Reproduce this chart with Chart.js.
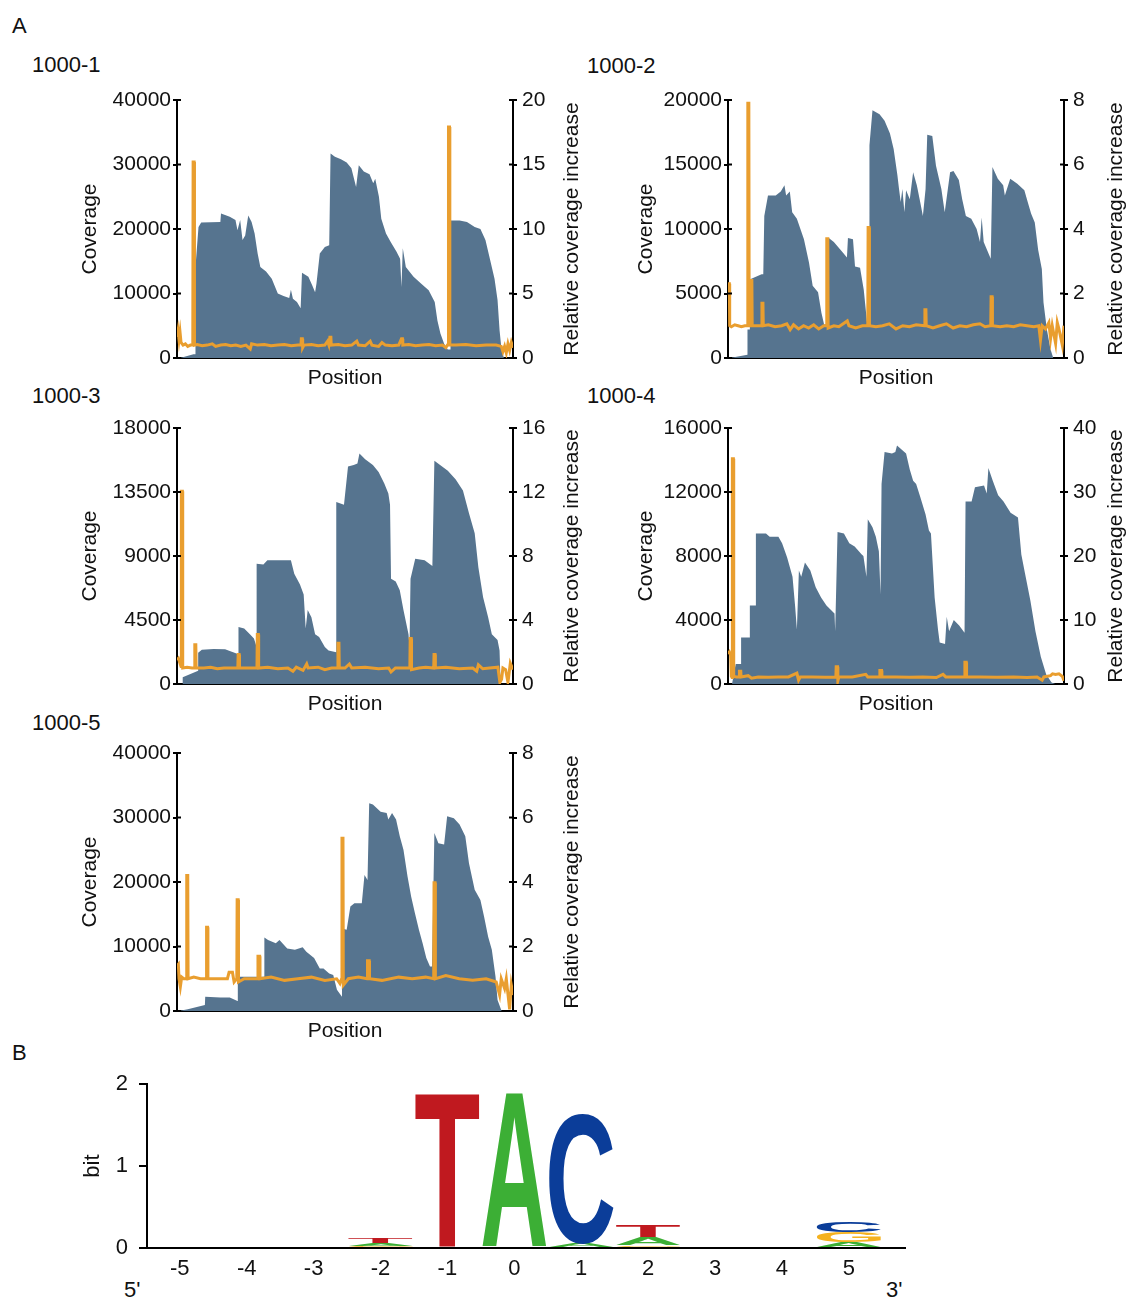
<!DOCTYPE html>
<html>
<head>
<meta charset="utf-8">
<script src="https://cdn.jsdelivr.net/npm/chart.js@4"></script>
<style>
body { margin: 0; background: #fff; }
#page { position: relative; width: 1133px; height: 1300px; font-family: "Liberation Sans", Arial, sans-serif; color: #111; }
.lbl { position: absolute; font-size: 22px; line-height: 22px; white-space: nowrap; }
canvas { position: absolute; }
</style>
</head>
<body>
<div id="page">
  <div class="lbl" style="left:12px;top:15px">A</div>
  <div class="lbl" style="left:32px;top:54px">1000-1</div>
  <div class="lbl" style="left:587px;top:55px">1000-2</div>
  <div class="lbl" style="left:32px;top:385px">1000-3</div>
  <div class="lbl" style="left:587px;top:385px">1000-4</div>
  <div class="lbl" style="left:32px;top:712px">1000-5</div>
  <div class="lbl" style="left:12px;top:1042px">B</div>
  <div class="lbl" style="left:124px;top:1279px">5'</div>
  <div class="lbl" style="left:886px;top:1279px">3'</div>

  <canvas id="c1" width="515" height="315" style="left:74px;top:80px"></canvas>
  <canvas id="c2" width="503" height="315" style="left:630px;top:80px"></canvas>
  <canvas id="c3" width="515" height="313" style="left:74px;top:408px"></canvas>
  <canvas id="c4" width="503" height="313" style="left:630px;top:408px"></canvas>
  <canvas id="c5" width="515" height="315" style="left:74px;top:733px"></canvas>
  <canvas id="logo" width="839" height="240" style="left:76px;top:1060px"></canvas>
</div>
<script>
// coverage along the amplicon: [position, reads]
const cov1 = [[0,0],[9,0],[49,570],[55,570],[55,14100],[64,20300],[72,21000],[129,21100],[131,22400],[157,21900],[174,21400],[180,19800],[188,21400],[195,18300],[203,19000],[212,22100],[222,21100],[231,19300],[240,16200],[248,14100],[265,13400],[282,12300],[300,10000],[317,9600],[334,9300],[339,10600],[345,9200],[357,8700],[368,7700],[372,13200],[391,12600],[402,11300],[411,10200],[415,11500],[425,16200],[440,17200],[453,17500],[457,31700],[470,31200],[488,30800],[505,30300],[519,29400],[533,26500],[541,29900],[556,28900],[573,28500],[584,27100],[590,27800],[601,25000],[608,21600],[622,19300],[636,18000],[653,16500],[664,15400],[668,11000],[672,17000],[681,14100],[704,12600],[727,11500],[749,10500],[767,8700],[775,5800],[784,3800],[795,2200],[806,1300],[814,1300],[814,21300],[841,21300],[863,21100],[886,20300],[903,20000],[918,18300],[932,15200],[945,12300],[954,9000],[960,4300],[966,1200],[973,0],[1000,0]];
const cov2 = [[0,0],[5,0],[58,260],[58,2200],[65,2200],[66,6100],[100,6500],[105,6500],[108,11000],[119,12600],[142,12600],[157,12900],[168,13400],[173,12600],[184,12900],[191,11300],[205,10800],[226,9200],[241,7400],[252,5600],[268,5100],[278,3500],[286,2600],[299,2600],[300,9300],[315,9000],[341,8200],[354,7800],[357,9300],[372,9200],[378,7100],[393,7000],[404,5300],[414,2700],[420,2600],[421,16500],[430,19200],[451,18900],[466,18400],[482,17400],[493,16200],[504,14200],[509,13100],[514,12100],[519,13100],[525,11300],[530,13000],[541,12300],[551,14400],[562,13400],[572,12100],[580,11000],[588,13100],[593,17300],[608,17200],[619,14900],[635,13100],[645,11300],[661,14400],[671,14500],[687,13800],[697,12300],[708,11000],[724,10800],[740,10000],[750,9000],[755,10900],[761,9000],[782,7700],[787,14800],[803,13900],[819,13400],[824,12600],[840,13900],[861,13500],[882,13000],[892,12100],[902,11200],[913,10500],[923,8400],[934,6900],[939,4300],[949,2200],[960,650],[968,0],[1000,0]];
const cov3 = [[0,0],[15,0],[17,470],[63,940],[63,2200],[74,2400],[109,2460],[143,2440],[171,2200],[183,2100],[183,4000],[200,3900],[217,3500],[229,3200],[237,2600],[237,8450],[257,8400],[269,8700],[314,8700],[339,8700],[349,7750],[366,7000],[377,6300],[383,3900],[389,5200],[400,4700],[411,3500],[423,3300],[440,2600],[451,2350],[474,2230],[474,12800],[497,12600],[509,15300],[526,15400],[537,15500],[543,16200],[560,15800],[583,15400],[600,14900],[617,14100],[629,13400],[634,12600],[637,7400],[651,7200],[663,6600],[674,5200],[689,3500],[692,2600],[695,7400],[709,8800],[737,8700],[760,8300],[766,15700],[783,15400],[806,15000],[829,14400],[851,13600],[869,12000],[886,10600],[897,8200],[911,6100],[926,4700],[937,3500],[954,3100],[960,2350],[963,0],[1000,0]];
const cov4 = [[0,0],[12,0],[23,1250],[39,1250],[39,2900],[65,2900],[65,4900],[83,4900],[83,9400],[113,9400],[124,9200],[150,9200],[161,8800],[176,7900],[192,6700],[200,4800],[205,3400],[211,7100],[218,6700],[229,7600],[245,7100],[261,6050],[277,5400],[293,4900],[308,4600],[317,4400],[319,3300],[326,9500],[345,9400],[361,8800],[377,8600],[398,8100],[403,8000],[412,6700],[416,10300],[430,9800],[440,9200],[449,8300],[454,5600],[457,12500],[466,14500],[488,14400],[498,14500],[503,14900],[514,14700],[530,14400],[541,13400],[551,12700],[560,12500],[572,11700],[588,10600],[598,9600],[604,9400],[615,5400],[625,3400],[630,2600],[646,2500],[651,4200],[658,3300],[672,4000],[688,3650],[704,3200],[707,11400],[725,11400],[735,12300],[762,12400],[770,11900],[775,13500],[788,12700],[804,11800],[820,11400],[841,10700],[863,10400],[873,8100],[884,6900],[900,5200],[915,3300],[931,1700],[947,600],[963,100],[974,0],[1000,0]];
const cov5 = [[0,0],[5,0],[32,260],[83,930],[84,2200],[129,2100],[157,2100],[180,1550],[181,5300],[203,5300],[259,5300],[260,11400],[271,11000],[294,10500],[305,11000],[328,9700],[351,9500],[374,9900],[385,9200],[408,8200],[425,6600],[436,6600],[453,5800],[465,5600],[476,3300],[491,2200],[492,12800],[505,12600],[516,16200],[528,16700],[550,16700],[558,21100],[567,20300],[572,32200],[583,32000],[606,30900],[624,30700],[629,29700],[640,30700],[652,29700],[663,27100],[674,25000],[686,20900],[697,17700],[708,15200],[720,12600],[731,10500],[742,8200],[753,6900],[759,6900],[766,27600],[778,26000],[795,25800],[804,30200],[824,29900],[841,28900],[858,27100],[869,22900],[886,18800],[903,17200],[914,14600],[926,11500],[937,9500],[948,5300],[954,1700],[966,0],[1000,0]];

// relative coverage increase: [position, ratio]
const ratio1 = [[0,1.6],[3,2.1],[6,1.4],[9,2.0],[12,1.2],[18,1.0],[25,1.1],[32,0.9],[40,1.0],[47,1.0],[48,15.2],[51,15.2],[52,1.0],[60,1.05],[75,0.95],[90,1.0],[105,1.1],[115,0.9],[130,1.0],[145,1.05],[160,0.95],[175,1.0],[190,0.9],[205,1.0],[218,0.7],[222,1.1],[240,1.0],[260,1.05],[280,0.95],[300,1.0],[320,1.05],[340,0.95],[360,1.0],[369,1.0],[370,1.5],[373,1.5],[374,0.8],[378,1.0],[400,1.05],[420,0.95],[440,1.0],[448,1.3],[452,1.0],[455,1.6],[458,1.6],[459,1.0],[480,1.05],[500,0.95],[520,1.0],[535,1.3],[540,1.0],[560,0.95],[575,1.3],[580,1.0],[600,0.9],[610,1.2],[620,1.0],[640,0.95],[660,1.0],[668,1.5],[671,1.5],[672,1.0],[690,1.05],[710,0.95],[730,1.0],[750,1.05],[770,0.95],[790,1.0],[800,0.8],[805,1.0],[807,1.0],[808,17.9],[811,17.9],[812,1.0],[830,1.0],[860,1.05],[890,0.95],[920,1.0],[950,1.0],[965,0.9],[970,0.5],[975,0.9],[980,0.4],[985,1.1],[990,0.6],[995,1.2],[1000,0.8]];
const ratio2 = [[0,2.3],[4,2.3],[5,1.0],[10,0.97],[20,1.03],[30,1.0],[40,0.97],[50,1.0],[59,1.0],[59,7.9],[62,7.9],[63,1.0],[68,1.0],[68,2.4],[71,2.4],[72,1.0],[85,1.0],[100,1.0],[101,1.7],[104,1.7],[105,1.0],[120,1.03],[140,0.97],[160,1.0],[175,1.06],[185,0.88],[195,1.03],[210,0.9],[225,1.0],[240,0.93],[255,1.03],[270,0.9],[285,1.0],[293,1.0],[294,3.7],[297,3.7],[298,0.93],[315,1.0],[330,0.97],[355,1.15],[360,1.0],[380,0.93],[400,1.0],[416,1.0],[417,4.05],[420,4.05],[421,1.0],[440,0.97],[460,1.0],[480,1.06],[500,0.9],[520,1.0],[540,0.97],[560,1.03],[585,1.0],[586,1.5],[589,1.5],[590,1.0],[610,0.93],[630,1.0],[650,1.06],[670,0.93],[690,1.0],[710,0.97],[730,1.03],[750,1.06],[765,0.97],[782,1.0],[783,1.9],[786,1.9],[787,1.0],[810,0.97],[830,1.0],[850,0.97],[870,1.03],[890,1.0],[910,0.97],[925,1.0],[930,0.55],[935,1.0],[945,0.9],[955,1.1],[960,0.6],[965,1.0],[975,0.45],[980,1.1],[985,0.9],[995,0.4],[1000,1.0]];
const ratio3 = [[0,1.5],[4,1.6],[12,1.1],[13,12.05],[16,12.05],[17,1.0],[30,1.05],[45,1.0],[52,1.0],[53,2.45],[56,2.45],[57,1.0],[80,1.0],[100,1.05],[120,0.95],[140,1.0],[160,1.0],[181,1.0],[182,1.85],[185,1.85],[186,1.0],[210,1.0],[238,1.0],[239,3.1],[242,3.1],[243,1.0],[270,1.05],[300,0.95],[330,1.0],[345,0.8],[355,1.05],[375,0.85],[386,1.25],[390,1.0],[420,1.05],[440,0.9],[460,1.0],[478,1.0],[479,2.55],[482,2.55],[483,1.0],[500,1.0],[513,1.25],[520,1.0],[560,1.05],[600,0.95],[630,1.0],[637,0.75],[650,1.0],[680,1.0],[693,1.0],[694,2.85],[697,2.85],[698,0.9],[720,1.0],[740,1.05],[764,1.0],[765,1.85],[768,1.85],[769,1.0],[800,1.05],[840,0.95],[880,1.0],[892,0.8],[897,1.2],[910,0.95],[930,1.0],[955,1.05],[961,0.1],[966,0.3],[970,1.0],[978,0.9],[985,0.1],[992,1.3],[1000,0.9]];
const ratio4 = [[0,4.7],[4,5.0],[8,4.5],[10,1.2],[12,1.0],[13,35.2],[16,35.2],[17,1.2],[25,1.1],[33,1.1],[34,2.0],[38,2.0],[39,1.1],[60,1.3],[70,0.9],[90,1.1],[120,1.05],[150,1.1],[180,1.1],[205,1.7],[210,0.6],[215,1.1],[250,1.1],[290,1.05],[321,1.1],[322,2.7],[326,2.7],[327,0.5],[330,1.1],[370,1.1],[410,1.5],[416,1.1],[450,1.1],[452,2.1],[457,2.1],[458,1.1],[500,1.1],[540,1.05],[580,1.1],[620,1.0],[640,1.5],[648,1.1],[700,1.1],[704,1.1],[705,3.4],[709,3.4],[710,1.1],[750,1.1],[800,1.05],[850,1.1],[890,1.0],[920,1.1],[935,0.6],[940,1.1],[960,1.3],[966,1.6],[975,1.5],[985,1.6],[995,1.2],[1000,0.5]];
const ratio5 = [[0,1.4],[4,1.45],[6,1.0],[10,0.75],[14,1.05],[20,1.0],[28,1.0],[29,4.2],[32,4.2],[33,1.0],[50,1.05],[70,1.0],[87,1.0],[88,2.6],[91,2.6],[92,1.0],[120,1.0],[150,1.0],[155,1.2],[165,1.2],[170,0.9],[178,1.0],[179,3.45],[182,3.45],[183,0.9],[200,1.0],[240,1.0],[241,1.7],[246,1.7],[247,1.0],[280,1.05],[320,0.95],[360,1.0],[400,1.05],[440,0.95],[475,1.0],[485,0.85],[490,1.0],[491,5.36],[494,5.36],[495,0.8],[510,1.0],[540,1.05],[566,1.0],[567,1.56],[572,1.56],[573,1.0],[610,0.95],[660,1.05],[700,1.0],[740,1.05],[764,1.0],[765,3.98],[768,3.98],[769,1.0],[800,1.1],[840,1.0],[880,0.95],[920,1.0],[950,0.9],[960,0.5],[965,1.0],[975,0.7],[980,1.0],[990,0.05],[995,0.8],[1000,0.5]];

// sequence logo, information in bits per position
const logoPos = [-5, -4, -3, -2, -1, 0, 1, 2, 3, 4, 5];
const bitsA = [0, 0, 0, 0.03, 0, 1.89, 0.05, 0.10, 0, 0, 0.07];
const bitsC = [0, 0, 0, 0, 0, 0, 1.60, 0, 0, 0, 0.13];
const bitsG = [0, 0, 0, 0.025, 0, 0, 0, 0.03, 0, 0, 0.12];
const bitsT = [0, 0, 0, 0.06, 1.89, 0, 0, 0.145, 0, 0, 0];

const FONT = '"Liberation Sans", Arial, sans-serif';
const blue = "#56748f";
const orange = "#e99e2f";

// short tick marks on the inner side of both y axes
const innerTicks = {
  id: "innerTicks",
  afterDraw(chart) {
    const ctx = chart.ctx;
    ["y", "y2"].forEach(id => {
      const s = chart.scales[id];
      if (!s) return;
      const x = id === "y" ? chart.chartArea.left : chart.chartArea.right;
      const dir = id === "y" ? 1 : -1;
      ctx.save();
      ctx.strokeStyle = "#000";
      ctx.lineWidth = 2;
      s.ticks.forEach(t => {
        const y = s.getPixelForValue(t.value);
        ctx.beginPath();
        ctx.moveTo(x, y);
        ctx.lineTo(x + dir * 4, y);
        ctx.stroke();
      });
      ctx.restore();
    });
  }
};

// right axis title reading bottom-to-top
const rightTitle = {
  id: "rightTitle",
  afterDraw(chart) {
    const s = chart.scales.y2;
    const ctx = chart.ctx;
    ctx.save();
    ctx.font = "21px " + FONT;
    ctx.fillStyle = "#111";
    ctx.textAlign = "center";
    ctx.textBaseline = "middle";
    ctx.translate(s.right - 17, (chart.chartArea.top + chart.chartArea.bottom) / 2);
    ctx.rotate(-Math.PI / 2);
    ctx.fillText("Relative coverage increase", 0, 0);
    ctx.restore();
  }
};

function coverageChart(id, cov, ratio, covMax, ratioMax, leftW, rightW) {
  new Chart(document.getElementById(id), {
    type: "line",
    data: {
      datasets: [
        {
          data: ratio.map(p => ({ x: p[0], y: p[1] })),
          yAxisID: "y2",
          borderColor: orange,
          borderWidth: 3,
          pointRadius: 0,
          tension: 0,
          fill: false
        },
        {
          data: cov.map(p => ({ x: p[0], y: p[1] })),
          yAxisID: "y",
          borderWidth: 0,
          backgroundColor: blue,
          fill: "origin",
          pointRadius: 0,
          tension: 0
        }
      ]
    },
    options: {
      responsive: false,
      animation: false,
      events: [],
      layout: { autoPadding: false, padding: { top: 20 } },
      plugins: { legend: { display: false }, tooltip: { enabled: false } },
      scales: {
        x: {
          type: "linear", min: 0, max: 1000,
          ticks: { display: false },
          grid: { display: false, drawTicks: false },
          border: { color: "#000", width: 2 },
          title: { display: true, text: "Position", color: "#111", font: { family: FONT, size: 21 }, padding: 4 },
          afterFit: s => { s.height = 37; }
        },
        y: {
          position: "left", min: 0, max: covMax,
          ticks: { stepSize: covMax / 4, callback: v => String(v), color: "#111", font: { family: FONT, size: 21 }, padding: 2 },
          grid: { drawOnChartArea: false, tickLength: 4, lineWidth: 2, color: "#000" },
          border: { color: "#000", width: 2 },
          title: { display: true, text: "Coverage", color: "#111", font: { family: FONT, size: 21 }, padding: 4 },
          afterFit: s => { s.width = leftW; }
        },
        y2: {
          position: "right", min: 0, max: ratioMax,
          ticks: { stepSize: ratioMax / 4, callback: v => String(v), color: "#111", font: { family: FONT, size: 21 }, padding: 5 },
          grid: { drawOnChartArea: false, tickLength: 4, lineWidth: 2, color: "#000" },
          border: { color: "#000", width: 2 },
          afterFit: s => { s.width = rightW; }
        }
      }
    },
    plugins: [innerTicks, rightTitle]
  });
}

coverageChart("c1", cov1, ratio1, 40000, 20, 103, 76);
coverageChart("c2", cov2, ratio2, 20000, 8, 98, 69);
coverageChart("c3", cov3, ratio3, 18000, 16, 103, 76);
coverageChart("c4", cov4, ratio4, 16000, 40, 98, 69);
coverageChart("c5", cov5, ratio5, 40000, 8, 103, 76);

// ---- sequence logo ----
const letterBits = { A: bitsA, C: bitsC, G: bitsG, T: bitsT };
const letterColor = { A: "#3caf35", C: "#0b3d99", G: "#f5b21f", T: "#c0191f" };
const stacks = { A: [], C: [], G: [], T: [] };
logoPos.forEach((pos, i) => {
  const col = Object.keys(letterBits).map(l => ({ l, h: letterBits[l][i] }));
  col.sort((a, b) => a.h - b.h);
  let base = 0;
  col.forEach(c => {
    stacks[c.l].push({ x: pos, y: [base, base + c.h] });
    base += c.h;
  });
});

function drawGlyph(ctx, ch, color, x, y, w, h) {
  ctx.save();
  ctx.font = "bold 200px " + FONT;
  ctx.textAlign = "left";
  ctx.textBaseline = "alphabetic";
  const m = ctx.measureText(ch);
  const gw = m.actualBoundingBoxLeft + m.actualBoundingBoxRight;
  const gh = m.actualBoundingBoxAscent + m.actualBoundingBoxDescent;
  ctx.translate(x, y);
  ctx.scale(w / gw, h / gh);
  ctx.fillStyle = color;
  ctx.fillText(ch, m.actualBoundingBoxLeft, m.actualBoundingBoxAscent);
  ctx.restore();
}

const letterPlugin = {
  id: "letters",
  afterDatasetsDraw(chart) {
    const ctx = chart.ctx;
    chart.data.datasets.forEach((ds, di) => {
      chart.getDatasetMeta(di).data.forEach(bar => {
        const p = bar.getProps(["x", "y", "base", "width"], true);
        const top = Math.min(p.y, p.base);
        const h = Math.abs(p.base - p.y);
        if (h < 0.4) return;
        drawGlyph(ctx, ds.label, letterColor[ds.label], p.x - p.width / 2, top, p.width, h);
      });
    });
  }
};

new Chart(document.getElementById("logo"), {
  type: "bar",
  data: {
    datasets: Object.keys(stacks).map(l => ({
      label: l,
      data: stacks[l],
      backgroundColor: "rgba(0,0,0,0)",
      borderWidth: 0,
      grouped: false,
      barPercentage: 0.96,
      categoryPercentage: 1
    }))
  },
  options: {
    responsive: false,
    animation: false,
    events: [],
    layout: { autoPadding: false, padding: { top: 24, right: 10 } },
    plugins: { legend: { display: false }, tooltip: { enabled: false } },
    scales: {
      x: {
        type: "linear", min: -5.49, max: 5.84, offset: false,
        afterBuildTicks: s => { s.ticks = logoPos.map(v => ({ value: v })); },
        ticks: { autoSkip: false, maxRotation: 0, color: "#111", font: { family: FONT, size: 22 }, padding: 8, callback: v => String(v) },
        grid: { display: false, drawTicks: false, offset: false },
        border: { color: "#000", width: 2 },
        afterFit: s => { s.height = 52; }
      },
      y: {
        min: 0, max: 2,
        ticks: { stepSize: 1, color: "#111", font: { family: FONT, size: 22 }, padding: 11, callback: v => String(v) },
        grid: { drawOnChartArea: false, tickLength: 8, lineWidth: 2, color: "#000" },
        border: { color: "#000", width: 2 },
        title: { display: true, text: "bit", color: "#111", font: { family: FONT, size: 22 }, padding: 4 },
        afterFit: s => { s.width = 71; }
      }
    }
  },
  plugins: [letterPlugin]
});
</script>
</body>
</html>
